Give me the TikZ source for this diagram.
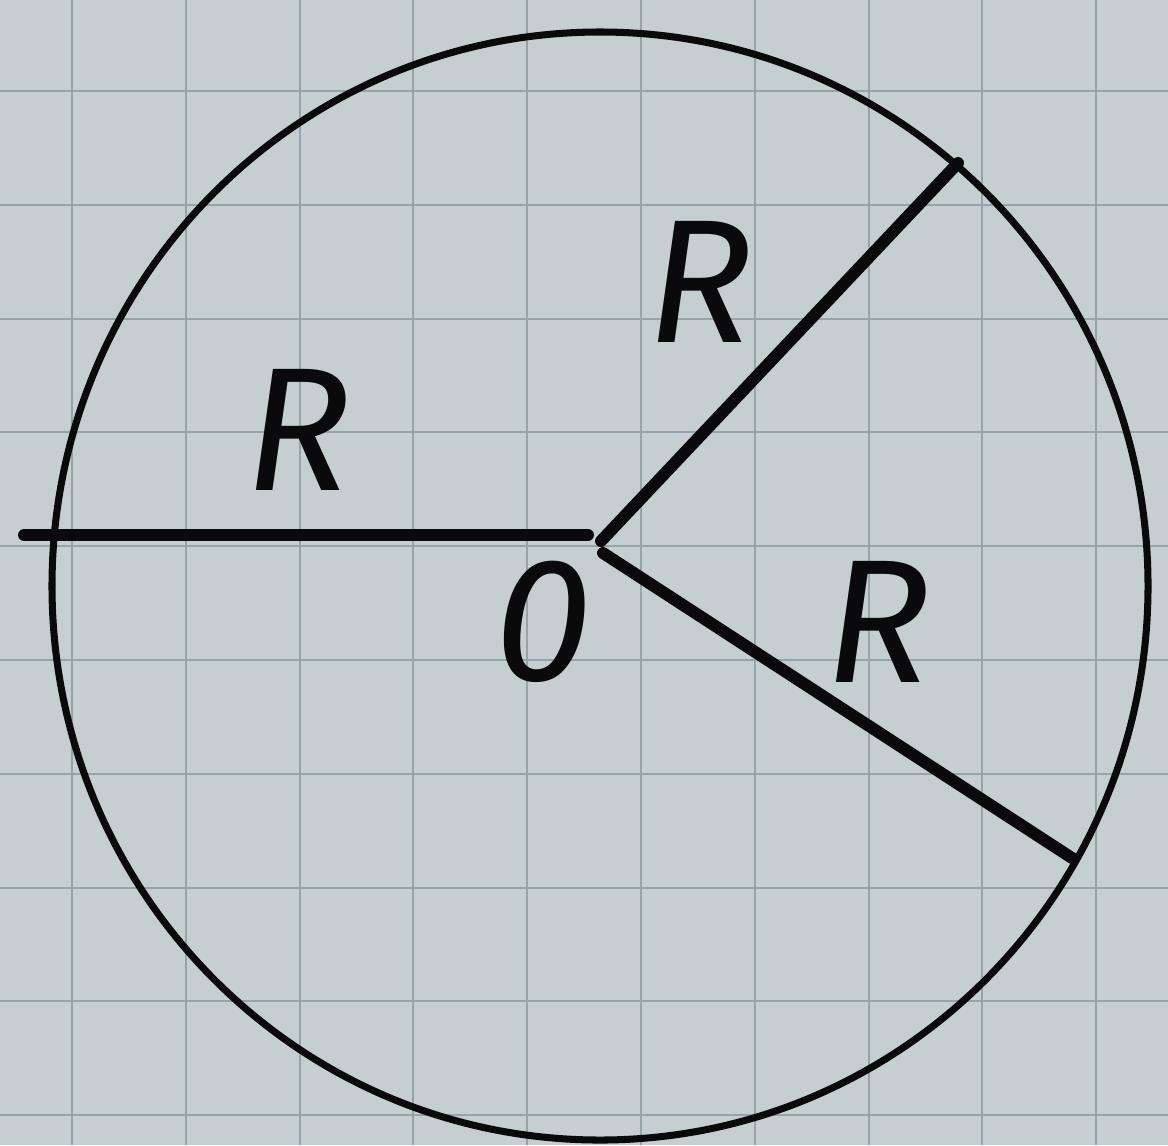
\documentclass[tikz,border=0pt]{standalone}
\usepackage{fontspec}
\setmainfont{Fira Sans}
\definecolor{paper}{RGB}{197,207,210}
\definecolor{gridc}{RGB}{150,163,168}
\definecolor{ink}{RGB}{10,10,12}
\begin{document}
\begin{tikzpicture}[x=0.01cm,y=-0.01cm,
  radius line/.style={ink,line width=3.4pt,line cap=round},
  rim/.style={ink,line width=2pt},
  lbl/.style={ink,font=\fontsize{50}{50}\selectfont\itshape}]
\fill[paper] (0,0) rectangle (1168,1145);
\useasboundingbox (0,0) rectangle (1168,1145);
\foreach \i in {0,...,9} {
  \draw[gridc,line width=0.6pt] ({72+113.8*\i},0) -- ({72+113.8*\i},1145);
  \draw[gridc,line width=0.6pt] (0,{91+113.8*\i}) -- (1168,{91+113.8*\i});
}
\draw[rim] (600,586) ellipse [x radius=548, y radius=554];
\coordinate (O) at (598,540);
\coordinate (L) at (24,535);
\coordinate (Lend) at (588,535);
\coordinate (U) at (958,163);
\coordinate (D) at (1072,858);
\coordinate (O1) at (601,541);
\coordinate (O2) at (603,553);
\draw[radius line] (L) -- (Lend);
\draw[radius line] (O1) -- (U);
\draw[radius line] (O2) -- (D);
\node[lbl] (r1) at (298,430) {R};
\node[lbl] (r2) at (700,282) {R};
\node[lbl] (r3) at (878,622) {R};
\node[lbl] (o) at (543,622) {0};
\end{tikzpicture}
\end{document}
